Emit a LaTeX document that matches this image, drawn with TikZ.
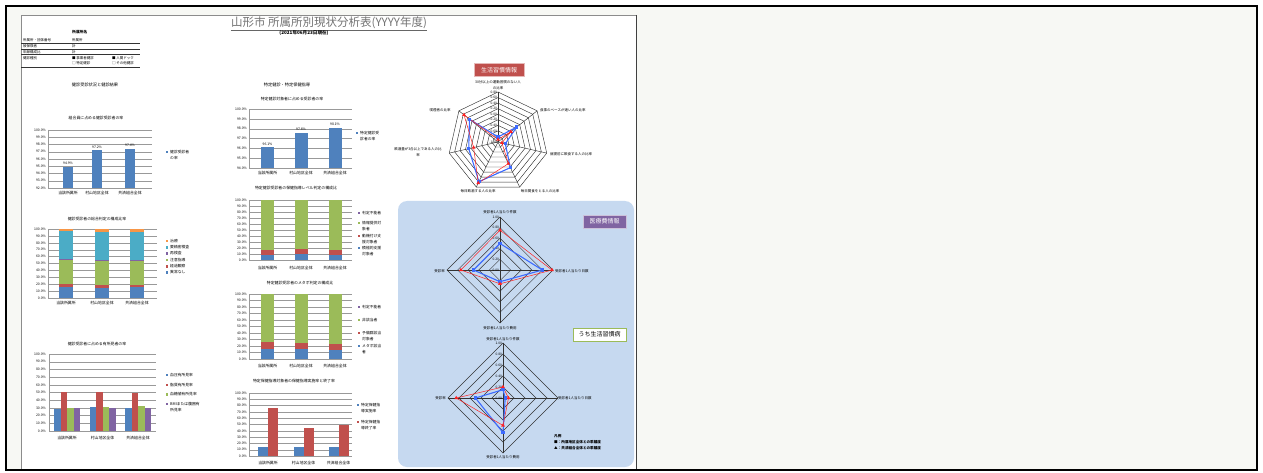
\documentclass[tikz,border=0pt]{standalone}
\usepackage{fontspec}
\setmainfont{Noto Sans CJK JP}
\usetikzlibrary{positioning,shapes.geometric,calc}

\definecolor{xlblue}{HTML}{4F81BD}
\definecolor{xlred}{HTML}{C0504D}
\definecolor{xlgreen}{HTML}{9BBB59}
\definecolor{xlpurple}{HTML}{8064A2}
\definecolor{xlteal}{HTML}{4BACC6}
\definecolor{xlorange}{HTML}{F79646}
\definecolor{panelblue}{HTML}{C6D9F0}
\definecolor{radblue}{HTML}{3D6BFF}
\definecolor{radred}{HTML}{FF2020}
\definecolor{backdrop}{HTML}{F7F8F4}

\tikzstyle{tiny}=[inner sep=0pt, font=\fontsize{3.4}{3.9}\selectfont]
\tikzstyle{ylab}=[tiny, anchor=east]
\tikzstyle{cat}=[inner sep=0pt, font=\fontsize{3.9}{4.4}\selectfont]
\tikzstyle{ctitle}=[inner sep=0pt, font=\fontsize{3.9}{4.4}\selectfont]
\tikzstyle{legtext}=[inner sep=0pt, anchor=north west, align=left, font=\fontsize{3.8}{6.3}\selectfont]
\tikzstyle{gridln}=[black!40, line width=0.3pt]
\tikzstyle{ring}=[black!80, line width=0.45pt]
\tikzstyle{scl}=[inner sep=0pt, anchor=east, font=\fontsize{3.3}{3.6}\selectfont]
\tikzstyle{axtext}=[inner sep=0pt, align=center, font=\fontsize{3.5}{5.5}\selectfont]
\tikzstyle{bline}=[radblue, line width=1.1pt, line join=round]
\tikzstyle{rline}=[radred, line width=0.5pt, line join=round]
\tikzstyle{bmark}=[rectangle, fill=radblue, inner sep=0pt, minimum size=3.2pt]
\tikzstyle{rmark}=[regular polygon, regular polygon sides=3, fill=radred, inner sep=0pt, minimum size=4.4pt]
\tikzstyle{tag}=[rectangle, inner sep=0pt, minimum height=13pt, font=\fontsize{6}{7}\selectfont]
\tikzstyle{info}=[inner sep=0pt, anchor=west, font=\fontsize{3.5}{4}\selectfont]

\begin{document}
\begin{tikzpicture}[x=1pt, y=-1pt]
  \useasboundingbox (0,0) rectangle (1263,473);
  \fill[white] (0,0) rectangle (1263,473);
  \fill[backdrop] (6,6) rectangle (1257,470);

  % sheet
  \fill[white] (21,15) rectangle (636,469);
  \draw[black!45, line width=0.7pt] (21,469) -- (21,15) -- (636,15);
  \draw[black!75, line width=1.2pt] (636.5,15) -- (636.5,469);
  \draw[line width=2pt] (6,6) rectangle (1257,470);

  % heading
  \node[inner sep=0pt, text=black!55, font=\fontsize{11.5}{12}\selectfont] (title) at (329,23)
    {山形市 所属所別現状分析表(YYYY年度)};
  \draw[black!60, line width=0.5pt] ([yshift=-0.8pt]title.south west) -- ([yshift=-0.8pt]title.south east);
  \node[inner sep=0pt, font=\bfseries\fontsize{4.6}{5}\selectfont] (stamp) at (304,33) {(2021年06月23日現在)};

  % info block
  \node[info, font=\bfseries\fontsize{3.8}{4}\selectfont] (iName) at (72,32) {所属所名};
  \node[info] (iRow1) at (23,40.5) {所属所・団体番号};
  \node[info] (iVal1) at (72,40.5) {所属所};
  \node[info] (iRow2) at (23,46.2) {被保険者};
  \node[info] (iVal2) at (72,46.2) {計};
  \node[info] (iRow3) at (23,51.8) {年齢構成比};
  \node[info] (iVal3) at (72,51.8) {計};
  \node[info] (iRow4) at (23,57.8) {健診種別};
  \node[info] (iChk1) at (72,57.8) {■\ 事業者健診};
  \node[info] (iChk2) at (112,57.8) {■\ 人間ドック};
  \node[info] (iChk3) at (72,63.6) {□\ 特定健診};
  \node[info] (iChk4) at (112,63.6) {□\ その他健診};
  \foreach \yy in {43.5,49,54.5,67.5}
    \draw[black!80, line width=0.35pt] (21,\yy) -- (140,\yy);

  \node[inner sep=0pt, font=\fontsize{4.2}{5}\selectfont] (secA) at (95,85) {健診受診状況と健診結果};
  \node[inner sep=0pt, font=\fontsize{4.2}{5}\selectfont] (secB) at (287,85) {特定健診・特定保健指導};

  % chart: receipt rate
  \node[ctitle] (aTitle) at (96,118) {組合員に占める健診受診者の率};
  \foreach \v [count=\i from 0] in {92,...,100} {
    \draw[gridln] (48,188-\i*7.25) -- (152,188-\i*7.25);
    \node[ylab] (aLab\i) at (46,188-\i*7.25) {\v.0\%};
  }
  \draw[gridln] (48,130) -- (48,188);
  \foreach \x/\v [count=\k] in {68/94.9, 97/97.2, 130/97.4} {
    \fill[xlblue] (\x-5,188) rectangle (\x+5,855-\v*7.25);
    \node[tiny, anchor=south] (aVal\k) at (\x,853-\v*7.25) {\v\%};
  }
  \foreach \x/\lab [count=\k] in {68/当該所属所, 97/村山地区全体, 130/共済組合全体}
    \node[cat] (aCat\k) at (\x,193.5) {\lab};
  \fill[xlblue] (165.5,150.8) rectangle (168,153.3);
  \node[legtext] (aKey) at (170,150) {健診受診者\\の率};

  % chart: overall judgement
  \node[ctitle] (bTitle) at (97,219) {健診受診者の総合判定の構成比率};
  \foreach \v [count=\i from 0] in {0,10,...,100} {
    \draw[gridln] (48,298-\i*6.9) -- (157,298-\i*6.9);
    \node[ylab] (bLab\i) at (46,298-\i*6.9) {\v.0\%};
  }
  \draw[gridln] (48,229) -- (48,298);
  \foreach \x/\va/\vb/\vc/\vd/\ve in {66/16/21/56/57/97, 102/15/19/55/55.5/96, 137/16/19/55/55.5/96} {
    \fill[xlblue] (\x-7,298) rectangle (\x+7,298-\va*0.69);
    \fill[xlred] (\x-7,298-\va*0.69) rectangle (\x+7,298-\vb*0.69);
    \fill[xlgreen] (\x-7,298-\vb*0.69) rectangle (\x+7,298-\vc*0.69);
    \fill[xlpurple] (\x-7,298-\vc*0.69) rectangle (\x+7,298-\vd*0.69);
    \fill[xlteal] (\x-7,298-\vd*0.69) rectangle (\x+7,298-\ve*0.69);
    \fill[xlorange] (\x-7,298-\ve*0.69) rectangle (\x+7,229);
  }
  \foreach \x/\lab [count=\k] in {66/当該所属所, 102/村山地区全体, 137/共済組合全体}
    \node[cat] (bCat\k) at (\x,303.5) {\lab};
  \foreach \col/\lab/\yy [count=\k] in {xlorange/治療/241, xlteal/要精密検査/247.3, xlpurple/再検査/253.6,
      xlgreen/注意指導/259.9, xlred/経過観察/266.2, xlblue/異常なし/272.5} {
    \fill[\col] (165.5,\yy-1.2) rectangle (168,\yy+1.3);
    \node[legtext] (bKey\k) at (170,\yy-2) {\lab};
  }

  % chart: findings
  \node[ctitle] (cTitle) at (97,344) {健診受診者に占める有所見者の率};
  \foreach \v [count=\i from 0] in {0,10,...,100} {
    \draw[gridln] (49,431-\i*7.7) -- (156,431-\i*7.7);
    \node[ylab] (cLab\i) at (46,431-\i*7.7) {\v.0\%};
  }
  \draw[gridln] (49,354) -- (49,431);
  \foreach \x/\va/\vb/\vc/\vd in {67/29/51/30/30, 102.5/31/51/31/30, 138/30/49/33/30} {
    \fill[xlblue] (\x-13,431) rectangle (\x-6.5,431-\va*0.77);
    \fill[xlred] (\x-6.5,431) rectangle (\x,431-\vb*0.77);
    \fill[xlgreen] (\x,431) rectangle (\x+6.5,431-\vc*0.77);
    \fill[xlpurple] (\x+6.5,431) rectangle (\x+13,431-\vd*0.77);
  }
  \foreach \x/\lab [count=\k] in {67/当該所属所, 102.5/村山地区全体, 138/共済組合全体}
    \node[cat] (cCat\k) at (\x,438) {\lab};
  \foreach \col/\lab/\yy [count=\k] in {xlblue/血圧有所見率/375, xlred/脂質有所見率/384.7,
      xlgreen/血糖値有所見率/394.3, xlpurple/BMIまたは腹囲有\\所見率/404} {
    \fill[\col] (165.5,\yy-1.2) rectangle (168,\yy+1.3);
    \node[legtext] (cKey\k) at (170,\yy-2) {\lab};
  }

  % chart: specific checkup rate
  \node[ctitle] (dTitle) at (292,99) {特定健診対象者に占める受診者の率};
  \foreach \v [count=\i from 0] in {94,...,100} {
    \draw[gridln] (249,168-\i*9.8333) -- (352,168-\i*9.8333);
    \node[ylab] (dLab\i) at (247,168-\i*9.8333) {\v.0\%};
  }
  \draw[gridln] (249,109) -- (249,168);
  \foreach \x/\v [count=\k] in {267.5/96.1, 301/97.6, 335/98.1} {
    \fill[xlblue] (\x-6.5,168) rectangle (\x+6.5,1092.33-\v*9.8333);
    \node[tiny, anchor=south] (dVal\k) at (\x,1090.33-\v*9.8333) {\v\%};
  }
  \foreach \x/\lab [count=\k] in {267.5/当該所属所, 301/村山地区全体, 335/共済組合全体}
    \node[cat] (dCat\k) at (\x,173) {\lab};
  \fill[xlblue] (355.5,131.7) rectangle (358,134.2);
  \node[legtext] (dKey) at (360,131) {特定健診受\\診者の率};

  % chart: guidance level
  \node[ctitle] (eTitle) at (296,188) {特定健診受診者の保健指導レベル判定の構成比};
  \foreach \v [count=\i from 0] in {0,10,...,100} {
    \draw[gridln] (249,260-\i*6) -- (352,260-\i*6);
    \node[ylab] (eLab\i) at (247,260-\i*6) {\v.0\%};
  }
  \draw[gridln] (249,200) -- (249,260);
  \foreach \x/\va/\vb in {267.5/9/16, 301/10/18, 335/9/17} {
    \fill[xlblue] (\x-6.5,260) rectangle (\x+6.5,260-\va*0.6);
    \fill[xlred] (\x-6.5,260-\va*0.6) rectangle (\x+6.5,260-\vb*0.6);
    \fill[xlgreen] (\x-6.5,260-\vb*0.6) rectangle (\x+6.5,200);
  }
  \foreach \x/\lab [count=\k] in {267.5/当該所属所, 301/村山地区全体, 335/共済組合全体}
    \node[cat] (eCat\k) at (\x,268.5) {\lab};
  \foreach \col/\lab/\yy [count=\k] in {xlpurple/判定不能者/213, xlgreen/情報提供対\\象者/223,
      xlred/動機付け支\\援対象者/236, xlblue/積極的支援\\対象者/248} {
    \fill[\col] (357.5,\yy-1.2) rectangle (360,\yy+1.3);
    \node[legtext] (eKey\k) at (362,\yy-2) {\lab};
  }

  % chart: metabolic syndrome
  \node[ctitle] (fTitle) at (300,283) {特定健診受診者のメタボ判定の構成比};
  \foreach \v [count=\i from 0] in {0,10,...,100} {
    \draw[gridln] (249,359-\i*6.5) -- (352,359-\i*6.5);
    \node[ylab] (fLab\i) at (247,359-\i*6.5) {\v.0\%};
  }
  \draw[gridln] (249,294) -- (249,359);
  \foreach \x/\va/\vb in {267.5/16/26, 301/15/25, 335/14/23} {
    \fill[xlblue] (\x-6.5,359) rectangle (\x+6.5,359-\va*0.65);
    \fill[xlred] (\x-6.5,359-\va*0.65) rectangle (\x+6.5,359-\vb*0.65);
    \fill[xlgreen] (\x-6.5,359-\vb*0.65) rectangle (\x+6.5,294);
  }
  \foreach \x/\lab [count=\k] in {267.5/当該所属所, 301/村山地区全体, 335/共済組合全体}
    \node[cat] (fCat\k) at (\x,366) {\lab};
  \foreach \col/\lab/\yy [count=\k] in {xlpurple/判定不能者/307, xlgreen/非該当者/320,
      xlred/予備群該当\\対象者/333, xlblue/メタボ該当\\者/346} {
    \fill[\col] (357.5,\yy-1.2) rectangle (360,\yy+1.3);
    \node[legtext] (fKey\k) at (362,\yy-2) {\lab};
  }

  % chart: guidance completion
  \node[ctitle] (gTitle) at (294,381) {特定保健指導対象者の保健指導実施率と終了率};
  \foreach \v [count=\i from 0] in {0,10,...,100} {
    \draw[gridln] (249,456-\i*6.3) -- (352,456-\i*6.3);
    \node[ylab] (gLab\i) at (247,456-\i*6.3) {\v.0\%};
  }
  \draw[gridln] (249,393) -- (249,456);
  \foreach \x/\va/\vb in {268/14/76, 303.5/14/45, 338.5/15/50} {
    \fill[xlblue] (\x-10,456) rectangle (\x,456-\va*0.63);
    \fill[xlred] (\x,456) rectangle (\x+10,456-\vb*0.63);
  }
  \foreach \x/\lab [count=\k] in {268/当該所属所, 303.5/村山地区全体, 338.5/共済組合全体}
    \node[cat] (gCat\k) at (\x,463) {\lab};
  \foreach \col/\lab/\yy [count=\k] in {xlblue/特定保健指\\導実施率/405, xlred/特定保健指\\導終了率/422} {
    \fill[\col] (356.5,\yy-1.2) rectangle (359,\yy+1.3);
    \node[legtext] (gKey\k) at (361,\yy-2) {\lab};
  }

  % lifestyle radar
  \node[tag, fill=xlred, draw=xlred!40, line width=0.6pt, text=white, minimum width=50pt] (lifeTag) at (499,70) {生活習慣情報};
  \begin{scope}[shift={(498,142)}, yscale=-1]
    \foreach \k in {1,...,9}
      \draw[ring] (90:\k*50/9) \foreach \j in {1,...,6} { -- (90-\j*360/7:\k*50/9) } -- cycle;
    \foreach \j in {0,...,6}
      \draw[ring] (0,0) -- (90-\j*360/7:50);
    \foreach \v [count=\i from 0] in {-1.00,-0.80,-0.60,-0.40,-0.20,0.00,0.20,0.40,0.60,0.80}
      \node[scl] (hs\i) at (-0.8,\i*50/9) {\v};
    \foreach \r [count=\j from 0] in {5,24,7.5,28.5,44,30,36.5}
      \coordinate (hb\j) at (90-\j*360/7:\r);
    \foreach \r [count=\j from 0] in {2.5,16.5,4,24,45.5,25,43.5}
      \coordinate (hr\j) at (90-\j*360/7:\r);
  \end{scope}
  \draw[bline] (hb0) -- (hb1) -- (hb2) -- (hb3) -- (hb4) -- (hb5) -- (hb6) -- cycle;
  \draw[rline] (hr0) -- (hr1) -- (hr2) -- (hr3) -- (hr4) -- (hr5) -- (hr6) -- cycle;
  \foreach \j in {0,...,6} {
    \node[bmark] (hbm\j) at (hb\j) {};
    \node[rmark] (hrm\j) at (hr\j) {};
  }
  \node[axtext] (hAx0) at (498,85) {30分以上の運動習慣のない人\\の比率};
  \node[axtext, anchor=west] (hAx1) at (540,110) {食事のペースが速い人の比率};
  \node[axtext, anchor=west] (hAx2) at (550,154) {就寝前に飲食する人の比率};
  \node[axtext] (hAx3) at (540,191) {毎日間食をとる人の比率};
  \node[axtext] (hAx4) at (478,191) {毎日飲酒する人の比率};
  \node[axtext] (hAx5) at (418,152) {飲酒量が3合以上である人の比\\率};
  \node[axtext] (hAx6) at (440,110) {喫煙者の比率};

  % medical cost panel
  \fill[panelblue, rounded corners=9pt] (398,201) rectangle (634,467);
  \node[tag, fill=xlpurple, draw=xlpurple!40, line width=0.6pt, text=white, minimum width=43pt] (costTag) at (604.5,221.5) {医療費情報};
  \node[tag, fill=white, draw=xlgreen, line width=1pt, minimum width=53pt] (lifeDisTag) at (599.5,334.5) {うち生活習慣病};

  \begin{scope}[shift={(500,270)}, yscale=-1]
    \foreach \k in {1,...,5}
      \draw[ring] (0,\k*10.6) -- (\k*10.6,0) -- (0,-\k*10.6) -- (-\k*10.6,0) -- cycle;
    \draw[ring] (0,53) -- (0,-53) (-53,0) -- (53,0);
    \foreach \v [count=\i from 0] in {0.00,0.20,0.40,0.60,0.80,1.00}
      \node[scl] (ms\i) at (-0.8,\i*10.6) {\v};
    \coordinate (mb1) at (0,26.5);   \coordinate (mb2) at (42.4,0);
    \coordinate (mb3) at (0,-11.7);  \coordinate (mb4) at (-26.5,0);
    \coordinate (mr1) at (0,39.8);   \coordinate (mr2) at (52,0);
    \coordinate (mr3) at (0,-13.8);  \coordinate (mr4) at (-39.2,0);
  \end{scope}
  \draw[bline] (mb1) -- (mb2) -- (mb3) -- (mb4) -- cycle;
  \draw[rline] (mr1) -- (mr2) -- (mr3) -- (mr4) -- cycle;
  \foreach \j in {1,...,4} {
    \node[bmark] (mbm\j) at (mb\j) {};
    \node[rmark] (mrm\j) at (mr\j) {};
  }
  \node[axtext] (mAx1) at (500,212) {受診者1人当たり件数};
  \node[axtext, anchor=west] (mAx2) at (555,271) {受診者1人当たり日数};
  \node[axtext] (mAx3) at (500,328) {受診者1人当たり費用};
  \node[axtext, anchor=east] (mAx4) at (445,271) {受診率};

  \begin{scope}[shift={(503,398)}, yscale=-1]
    \foreach \k in {1,...,5}
      \draw[ring] (0,\k*11) -- (\k*11,0) -- (0,-\k*11) -- (-\k*11,0) -- cycle;
    \draw[ring] (0,55) -- (0,-55) (-55,0) -- (55,0);
    \foreach \v [count=\i from 0] in {0.00,0.20,0.40,0.60,0.80,1.00}
      \node[scl] (ls\i) at (-0.8,\i*11) {\v};
    \coordinate (lb1) at (0,8.3);    \coordinate (lb2) at (2.2,0);
    \coordinate (lb3) at (0,-34.7);  \coordinate (lb4) at (-27.5,0);
    \coordinate (lr1) at (0,11);     \coordinate (lr2) at (5.5,0);
    \coordinate (lr3) at (0,-27.5);  \coordinate (lr4) at (-46.8,0);
  \end{scope}
  \draw[bline] (lb1) -- (lb2) -- (lb3) -- (lb4) -- cycle;
  \draw[rline] (lr1) -- (lr2) -- (lr3) -- (lr4) -- cycle;
  \foreach \j in {1,...,4} {
    \node[bmark] (lbm\j) at (lb\j) {};
    \node[rmark] (lrm\j) at (lr\j) {};
  }
  \node[axtext] (lAx1) at (503,339) {受診者1人当たり件数};
  \node[axtext, anchor=west] (lAx2) at (558,398) {受診者1人当たり日数};
  \node[axtext] (lAx3) at (503,457) {受診者1人当たり費用};
  \node[axtext, anchor=east] (lAx4) at (446,398) {受診率};

  \node[inner sep=0pt, anchor=north west, align=left, font=\bfseries\fontsize{3.6}{6}\selectfont] (legend) at (554,434)
    {凡例\\■：所属地区全体との乖離度\\▲：共済組合全体との乖離度};
\end{tikzpicture}
\end{document}
